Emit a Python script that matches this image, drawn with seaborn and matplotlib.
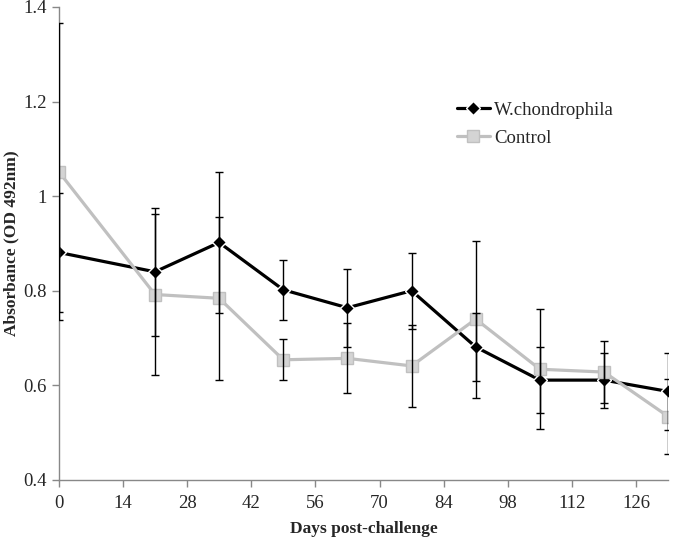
import numpy as np
import pandas as pd
import matplotlib
matplotlib.use("Agg")
import matplotlib.pyplot as plt
import seaborn as sns

# DATA

days = [0, 21, 35, 49, 63, 77, 91, 105, 119, 133]
wchon_mean = [0.881, 0.840, 0.902, 0.802, 0.764, 0.800, 0.681, 0.611, 0.611, 0.587]
wchon_err = [0.125, 0.136, 0.150, 0.064, 0.082, 0.080, 0.071, 0.069, 0.058, 0.082]
ctrl_mean = [1.052, 0.792, 0.784, 0.654, 0.657, 0.641, 0.740, 0.634, 0.628, 0.534]
ctrl_err = [0.314, 0.170, 0.172, 0.043, 0.074, 0.087, 0.166, 0.127, 0.066, 0.080]
x_ticks = [0, 14, 28, 42, 56, 70, 84, 98, 112, 126]
y_ticks = [0.4, 0.6, 0.8, 1.0, 1.2, 1.4]
y_tick_labels = ["0.4", "0.6", "0.8", "1", "1.2", "1.4"]

# STYLE

sns.set_style("ticks")
plt.rcParams["font.family"] = ["Liberation Serif", "DejaVu Serif"]

df = pd.DataFrame({
    "day": days * 2,
    "od": wchon_mean + ctrl_mean,
    "group": ["W.chondrophila"] * len(days) + ["Control"] * len(days),
})

fig, ax = plt.subplots(figsize=(6.75, 5.38), dpi=100)
fig.subplots_adjust(left=0.087, right=0.99, top=0.987, bottom=0.108)

sns.lineplot(data=df, x="day", y="od", hue="group", style="group",
             palette={"W.chondrophila": "black", "Control": "#c0c0c0"},
             markers={"W.chondrophila": "D", "Control": "s"},
             dashes=False, linewidth=2.3, markersize=8, ax=ax,
             markeredgewidth=1)

# marqueurs : carrés gris clair pour le contrôle
for line in ax.get_lines():
    if line.get_color() == "#c0c0c0":
        line.set_markerfacecolor("#d4d4d4")
        line.set_markeredgecolor("#c0c0c0")
        line.set_markersize(9)
    else:
        line.set_markersize(7)

ax.errorbar(days, wchon_mean, yerr=wchon_err, fmt="none", ecolor="black",
            elinewidth=1, capsize=3, capthick=1, zorder=5)
ax.errorbar(days, ctrl_mean, yerr=ctrl_err, fmt="none", ecolor="black",
            elinewidth=1, capsize=3, capthick=1, zorder=5)

ax.set_xlim(0, 133)
ax.set_ylim(0.4, 1.4)
ax.set_xticks(x_ticks)
ax.set_yticks(y_ticks)
ax.set_yticklabels(y_tick_labels)
ax.tick_params(axis="both", labelsize=13.5, color="#888888", length=5, width=1)
ax.tick_params(axis="x", pad=6)

for side in ["left", "bottom"]:
    ax.spines[side].set_color("#888888")
    ax.spines[side].set_linewidth(1)
sns.despine(ax=ax)

ax.set_xlabel("Days post-challenge", fontsize=12.5, fontweight="bold", labelpad=6)
ax.set_ylabel("Absorbance (OD 492nm)", fontsize=12.5, fontweight="bold", labelpad=3)

handles, labels = ax.get_legend_handles_labels()
for h in handles:
    if h.get_label() == "Control":
        h.set_markerfacecolor("#d4d4d4")
        h.set_markeredgecolor("#c0c0c0")
ax.legend(handles, labels, loc="center left", bbox_to_anchor=(0.625, 0.752),
          frameon=False, fontsize=13.5, handlelength=1.8, handletextpad=0.2,
          labelspacing=0.6)

fig.savefig("out.png", dpi=100)
